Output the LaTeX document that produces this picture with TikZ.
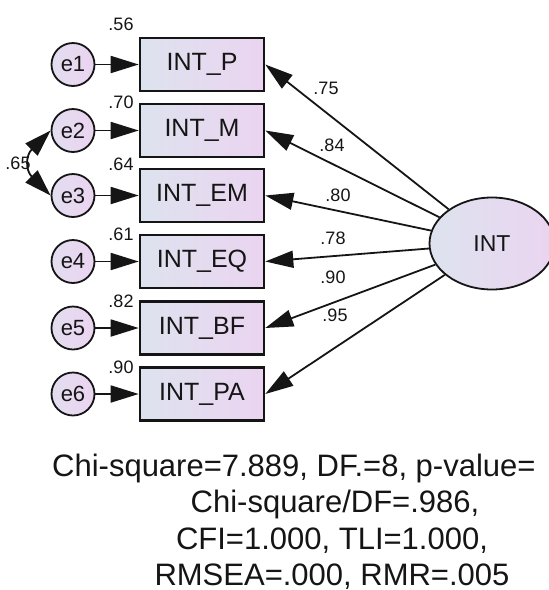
\documentclass[tikz,border=0pt]{standalone}
\usepackage{fontspec}
\setmainfont{Liberation Sans}
\usetikzlibrary{arrows.meta,shapes.geometric}
\definecolor{fillL}{HTML}{DDE3EE}
\definecolor{fillR}{HTML}{EBD4F1}
\definecolor{ink}{HTML}{151515}
\begin{document}
\begin{tikzpicture}[x=1pt,y=1pt,
  obs/.style={draw=ink, line width=2.6pt, left color=fillL, right color=fillR,
    minimum width=124pt, minimum height=53pt, inner sep=0pt,
    font=\fontsize{25}{30}\selectfont, text=ink},
  err/.style={circle, draw=ink, line width=1.8pt, left color=fillL!60!fillR, right color=fillR,
    minimum size=43pt, inner sep=0pt, font=\fontsize{22}{26}\selectfont, text=ink},
  lat/.style={ellipse, draw=ink, line width=1.8pt, left color=fillL, right color=fillR,
    minimum width=125pt, minimum height=92pt, inner sep=0pt,
    font=\fontsize{23}{28}\selectfont, text=ink},
  arr/.style={draw=ink, line width=1.8pt, -{Triangle[length=28pt,width=17pt]}},
  darr/.style={draw=ink, line width=1.8pt, {Triangle[length=27pt,width=17pt]}-{Triangle[length=27pt,width=17pt]}},
  num/.style={font=\fontsize{18}{22}\selectfont, text=ink, inner sep=0pt},
  fit/.style={font=\fontsize{31}{36}\selectfont, text=ink, inner sep=0pt}
]
\useasboundingbox (0,0) rectangle (549,-590);
% observed variables
\node[obs] (P)  at (202,-64.5) {INT\_P};
\node[obs] (M)  at (202,-130.5) {INT\_M};
\node[obs] (EM) at (202,-195.5) {INT\_EM};
\node[obs] (EQ) at (202,-261.5) {INT\_EQ};
\node[obs] (BF) at (202,-328) {INT\_BF};
\node[obs] (PA) at (202,-394) {INT\_PA};
% error terms
\node[err] (e1) at (73,-64.5) {e1};
\node[err] (e2) at (73,-130.5) {e2};
\node[err] (e3) at (73,-195.5) {e3};
\node[err] (e4) at (73,-261.5) {e4};
\node[err] (e5) at (73,-328) {e5};
\node[err] (e6) at (73,-394) {e6};
% latent
\node[lat] (INT) at (492,-243.5) {INT};
% squared multiple correlations
\node[num] (r1) at (121,-24) {.56};
\node[num] (r2) at (121,-102) {.70};
\node[num] (r3) at (121,-164) {.64};
\node[num] (r4) at (121,-234) {.61};
\node[num] (r5) at (121,-301) {.82};
\node[num] (r6) at (121,-367) {.90};
% error arrows
\draw[arr] (e1) -- (P);
\draw[arr] (e2) -- (M);
\draw[arr] (e3) -- (EM);
\draw[arr] (e4) -- (EQ);
\draw[arr] (e5) -- (BF);
\draw[arr] (e6) -- (PA);
% covariance
\draw[darr] (e2.west) to[out=225,in=135,looseness=1.4] (e3.west);
\node[num] (c23) at (18,-163) {.65};
% loadings
\draw[arr] (INT) -- (P.east);
\draw[arr] (INT) -- (M.east);
\draw[arr] (INT) -- (EM.east);
\draw[arr] (INT) -- (EQ.east);
\draw[arr] (INT) -- (BF.east);
\draw[arr] (INT) -- (PA.east);
\node[num] (l1) at (326,-88) {.75};
\node[num] (l2) at (332,-145) {.84};
\node[num] (l3) at (338,-195) {.80};
\node[num] (l4) at (333,-238) {.78};
\node[num] (l5) at (333,-277) {.90};
\node[num] (l6) at (335,-315) {.95};
% fit indices
\node[fit, anchor=base west] (f1) at (52,-476) {Chi-square=7.889, DF.=8, p-value=};
\node[fit, anchor=base] (f2) at (335,-512) {Chi-square/DF=.986,};
\node[fit, anchor=base] (f3) at (332,-549) {CFI=1.000, TLI=1.000,};
\node[fit, anchor=base] (f4) at (332,-585) {RMSEA=.000, RMR=.005};
\end{tikzpicture}
\end{document}
